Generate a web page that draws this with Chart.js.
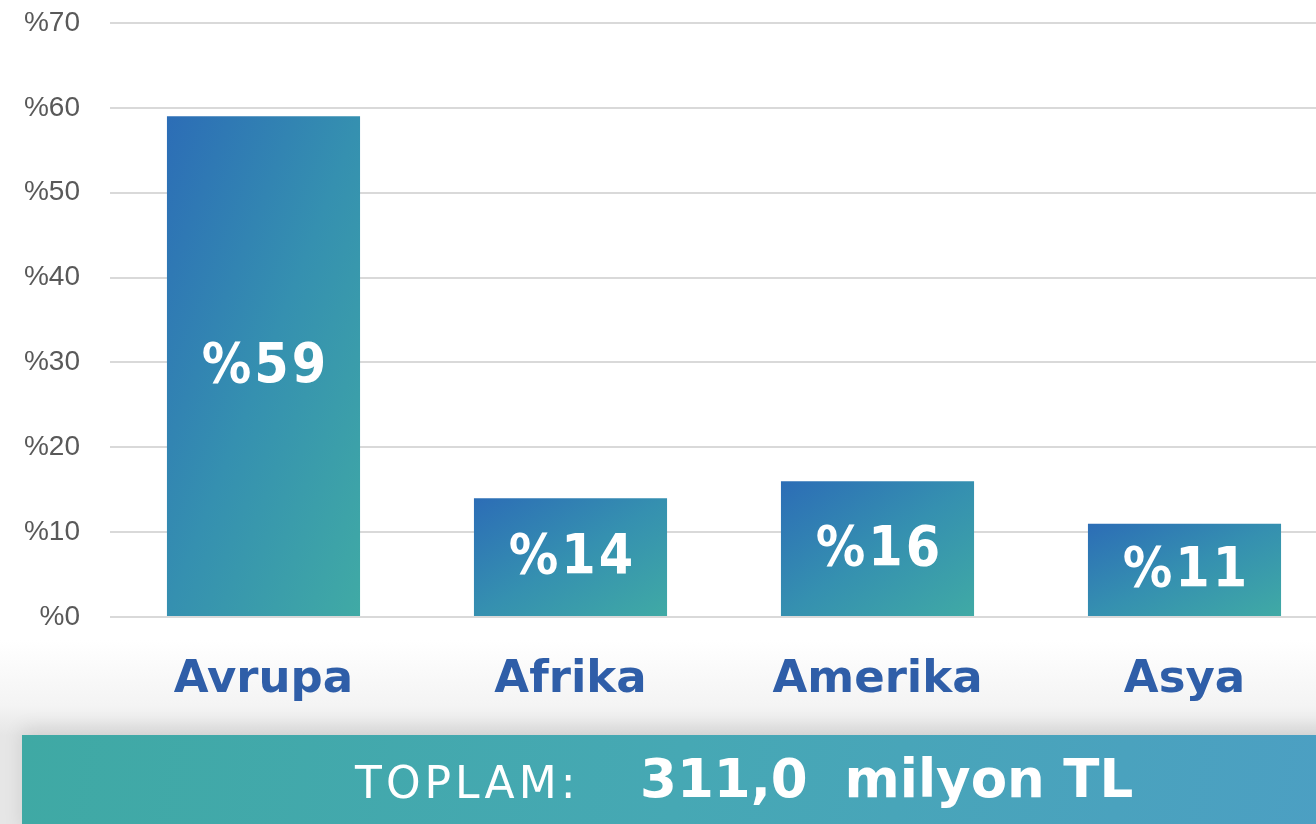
<!DOCTYPE html>
<html>
<head>
<meta charset="utf-8">
<script src="https://cdn.jsdelivr.net/npm/chart.js@4"></script>
<style>
  html, body {
    margin: 0;
    padding: 0;
    width: 1316px;
    height: 824px;
    overflow: hidden;
    background: linear-gradient(to bottom, #ffffff 0px, #ffffff 640px, #f4f4f4 705px, #e6e6e6 735px, #e6e6e6 824px);
    font-family: "DejaVu Sans", sans-serif;
  }
  #wrap {
    position: absolute;
    left: 0;
    top: 0;
    width: 1340px;
    height: 720px;
  }
  .total-bar {
    position: absolute;
    left: 22px;
    top: 735px;
    width: 1310px;
    height: 100px;
    background: linear-gradient(100deg, #3fa9a4 0%, #46a8b4 50%, #4c9fc3 100%);
    box-shadow: 0 -6px 18px rgba(0, 0, 0, 0.10);
    color: #fff;
  }
  .total-label {
    position: absolute;
    left: 333px;
    top: 22px;
    font-size: 44px;
    letter-spacing: 4px;
  }
  .total-value {
    position: absolute;
    left: 618px;
    top: 13px;
    font-size: 53px;
    font-weight: bold;
    white-space: pre;
  }
</style>
</head>
<body>
<div id="wrap"><canvas id="regionChart" width="1340" height="720"></canvas></div>
<div class="total-bar">
  <div class="total-label">TOPLAM:</div>
  <div class="total-value">311,0  milyon TL</div>
</div>
<script>
// Chart data
const regions = ['Avrupa', 'Afrika', 'Amerika', 'Asya'];
const shares = [59, 14, 16, 11];
const yTicks = [0, 10, 20, 30, 40, 50, 60, 70];

const BAR_FRACTION = 0.629;

// Office-style scaled diagonal gradient: top-left -> bottom-right
function barGradient(context) {
    const chart = context.chart;
    const xScale = chart.scales.x;
    const yScale = chart.scales.y;
    if (!xScale || !yScale || !chart.chartArea) return '#3589b0';
    const value = context.raw;
    const cx = xScale.getPixelForValue(context.dataIndex);
    const w = (xScale.width / regions.length) * BAR_FRACTION;
    const x0 = cx - w / 2;
    const y0 = yScale.getPixelForValue(value);
    const h = yScale.getPixelForValue(0) - y0;
    const t = (2 * w * h) / (w * w + h * h);
    const grad = chart.ctx.createLinearGradient(x0, y0, x0 + t * h, y0 + t * w);
    grad.addColorStop(0, '#2c6db6');
    grad.addColorStop(0.5, '#3590b0');
    grad.addColorStop(1, '#40aaa5');
    return grad;
}

const insideLabels = {
    id: 'insideLabels',
    afterDatasetsDraw(chart) {
        const ctx = chart.ctx;
        const meta = chart.getDatasetMeta(0);
        ctx.save();
        ctx.fillStyle = '#ffffff';
        ctx.font = 'bold 55px "DejaVu Sans Condensed", "DejaVu Sans", sans-serif';
        ctx.textAlign = 'center';
        ctx.textBaseline = 'middle';
        if ('letterSpacing' in ctx) ctx.letterSpacing = '3px';
        meta.data.forEach((bar, i) => {
            const midY = (bar.y + bar.base) / 2 + 2;
            ctx.fillText('%' + shares[i], bar.x + 2, midY);
        });
        ctx.restore();
    }
};

new Chart(document.getElementById('regionChart'), {
    type: 'bar',
    data: {
        labels: regions,
        datasets: [
            {
                data: shares,
                backgroundColor: barGradient,
                borderWidth: 0,
                categoryPercentage: 1,
                barPercentage: BAR_FRACTION
            }
        ]
    },
    options: {
        responsive: false,
        animation: false,
        layout: {
            padding: { top: 23, right: 2, bottom: 0, left: 0 }
        },
        scales: {
            x: {
                grid: { display: false },
                border: { display: false },
                ticks: {
                    color: '#2f5ea8',
                    font: { family: '"DejaVu Sans", sans-serif', size: 45, weight: 'bold' },
                    padding: 28
                },
                afterFit: (scale) => { scale.height = 103; }
            },
            y: {
                min: 0,
                max: 70,
                afterBuildTicks: (scale) => {
                    scale.ticks = yTicks.map(v => ({ value: v }));
                },
                grid: {
                    color: '#d9d9d9',
                    lineWidth: 2,
                    drawTicks: false
                },
                border: { display: false },
                ticks: {
                    color: '#595959',
                    font: { family: '"Liberation Sans", Arial, sans-serif', size: 28 },
                    padding: 30,
                    callback: (value) => '%' + value
                },
                afterFit: (scale) => {
                    scale.width = 110;
                    scale.paddingTop = 0;
                    scale.paddingBottom = 0;
                }
            }
        },
        plugins: {
            legend: { display: false },
            tooltip: { enabled: false }
        }
    },
    plugins: [insideLabels]
});
</script>
</body>
</html>
